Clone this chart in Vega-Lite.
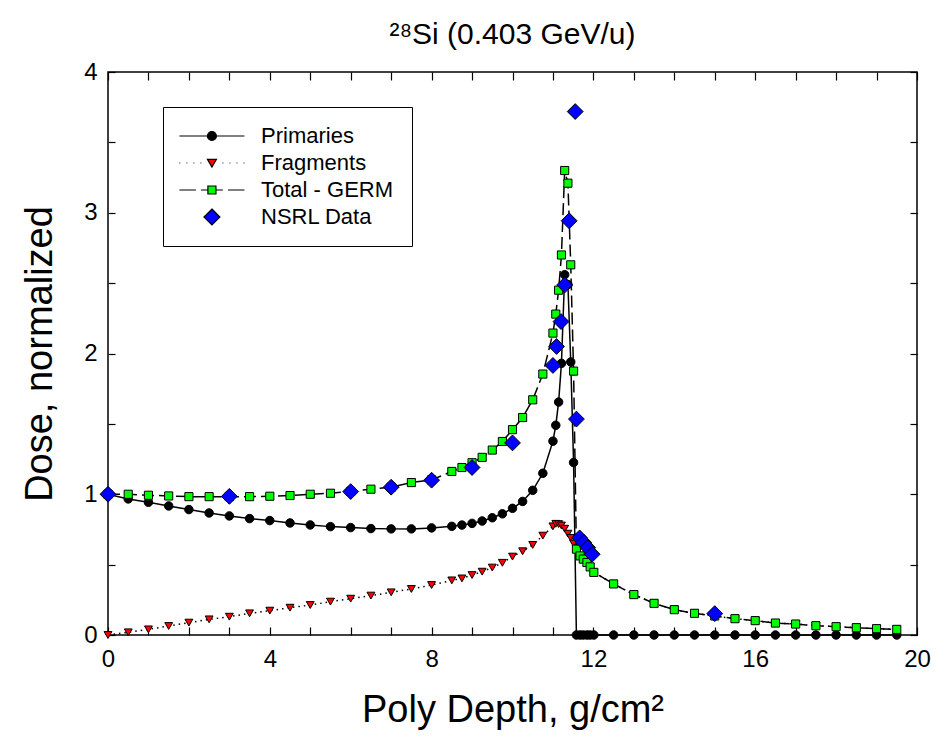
{
  "$schema": "https://vega.github.io/schema/vega-lite/v6.json",
  "width": 809,
  "height": 563,
  "autosize": {"type": "none"},
  "padding": {"left": 108, "top": 72, "right": 31, "bottom": 114},
  "background": "white",
  "config": {
    "font": "Liberation Sans",
    "view": {"stroke": "black", "strokeWidth": 1.5},
    "axis": {"domain": false, "tickColor": "black", "tickWidth": 1.2, "grid": false, "labelColor": "black", "titleColor": "black", "labelFont": "Liberation Sans", "titleFont": "Liberation Sans", "titleFontWeight": "normal"}
  },
  "title": {"text": "²⁸Si (0.403 GeV/u)", "fontSize": 30, "fontWeight": "normal", "font": "Liberation Sans", "offset": 10, "anchor": "middle", "color": "black"},
  "data": {"values": [
    {"series": "Primaries", "depth": 0, "dose": 1.0},
    {"series": "Primaries", "depth": 0.5, "dose": 0.967},
    {"series": "Primaries", "depth": 1, "dose": 0.943},
    {"series": "Primaries", "depth": 1.5, "dose": 0.917},
    {"series": "Primaries", "depth": 2, "dose": 0.891},
    {"series": "Primaries", "depth": 2.5, "dose": 0.867},
    {"series": "Primaries", "depth": 3, "dose": 0.846},
    {"series": "Primaries", "depth": 3.5, "dose": 0.827},
    {"series": "Primaries", "depth": 4, "dose": 0.813},
    {"series": "Primaries", "depth": 4.5, "dose": 0.796},
    {"series": "Primaries", "depth": 5, "dose": 0.782},
    {"series": "Primaries", "depth": 5.5, "dose": 0.77},
    {"series": "Primaries", "depth": 6, "dose": 0.763},
    {"series": "Primaries", "depth": 6.5, "dose": 0.756},
    {"series": "Primaries", "depth": 7, "dose": 0.754},
    {"series": "Primaries", "depth": 7.5, "dose": 0.754},
    {"series": "Primaries", "depth": 8, "dose": 0.761},
    {"series": "Primaries", "depth": 8.5, "dose": 0.772},
    {"series": "Primaries", "depth": 8.75, "dose": 0.781},
    {"series": "Primaries", "depth": 9, "dose": 0.793},
    {"series": "Primaries", "depth": 9.25, "dose": 0.81},
    {"series": "Primaries", "depth": 9.5, "dose": 0.833},
    {"series": "Primaries", "depth": 9.75, "dose": 0.861},
    {"series": "Primaries", "depth": 10, "dose": 0.9},
    {"series": "Primaries", "depth": 10.25, "dose": 0.949},
    {"series": "Primaries", "depth": 10.5, "dose": 1.028},
    {"series": "Primaries", "depth": 10.75, "dose": 1.149},
    {"series": "Primaries", "depth": 11, "dose": 1.377},
    {"series": "Primaries", "depth": 11.07, "dose": 1.49},
    {"series": "Primaries", "depth": 11.14, "dose": 1.655},
    {"series": "Primaries", "depth": 11.21, "dose": 1.93},
    {"series": "Primaries", "depth": 11.29, "dose": 2.56},
    {"series": "Primaries", "depth": 11.37, "dose": 2.49},
    {"series": "Primaries", "depth": 11.44, "dose": 1.94},
    {"series": "Primaries", "depth": 11.51, "dose": 1.225},
    {"series": "Primaries", "depth": 11.58, "dose": 0},
    {"series": "Primaries", "depth": 11.67, "dose": 0},
    {"series": "Primaries", "depth": 11.75, "dose": 0},
    {"series": "Primaries", "depth": 11.84, "dose": 0},
    {"series": "Primaries", "depth": 11.92, "dose": 0},
    {"series": "Primaries", "depth": 12.01, "dose": 0},
    {"series": "Primaries", "depth": 12.5, "dose": 0},
    {"series": "Primaries", "depth": 13, "dose": 0},
    {"series": "Primaries", "depth": 13.5, "dose": 0},
    {"series": "Primaries", "depth": 14, "dose": 0},
    {"series": "Primaries", "depth": 14.5, "dose": 0},
    {"series": "Primaries", "depth": 15, "dose": 0},
    {"series": "Primaries", "depth": 15.5, "dose": 0},
    {"series": "Primaries", "depth": 16, "dose": 0},
    {"series": "Primaries", "depth": 16.5, "dose": 0},
    {"series": "Primaries", "depth": 17, "dose": 0},
    {"series": "Primaries", "depth": 17.5, "dose": 0},
    {"series": "Primaries", "depth": 18, "dose": 0},
    {"series": "Primaries", "depth": 18.5, "dose": 0},
    {"series": "Primaries", "depth": 19, "dose": 0},
    {"series": "Primaries", "depth": 19.5, "dose": 0},

    {"series": "Fragments", "depth": 0, "dose": 0},
    {"series": "Fragments", "depth": 0.5, "dose": 0.019},
    {"series": "Fragments", "depth": 1, "dose": 0.04},
    {"series": "Fragments", "depth": 1.5, "dose": 0.064},
    {"series": "Fragments", "depth": 2, "dose": 0.088},
    {"series": "Fragments", "depth": 2.5, "dose": 0.111},
    {"series": "Fragments", "depth": 3, "dose": 0.13},
    {"series": "Fragments", "depth": 3.5, "dose": 0.154},
    {"series": "Fragments", "depth": 4, "dose": 0.173},
    {"series": "Fragments", "depth": 4.5, "dose": 0.194},
    {"series": "Fragments", "depth": 5, "dose": 0.213},
    {"series": "Fragments", "depth": 5.5, "dose": 0.237},
    {"series": "Fragments", "depth": 6, "dose": 0.258},
    {"series": "Fragments", "depth": 6.5, "dose": 0.28},
    {"series": "Fragments", "depth": 7, "dose": 0.303},
    {"series": "Fragments", "depth": 7.5, "dose": 0.327},
    {"series": "Fragments", "depth": 8, "dose": 0.355},
    {"series": "Fragments", "depth": 8.5, "dose": 0.388},
    {"series": "Fragments", "depth": 8.75, "dose": 0.402},
    {"series": "Fragments", "depth": 9, "dose": 0.426},
    {"series": "Fragments", "depth": 9.25, "dose": 0.45},
    {"series": "Fragments", "depth": 9.5, "dose": 0.479},
    {"series": "Fragments", "depth": 9.75, "dose": 0.513},
    {"series": "Fragments", "depth": 10, "dose": 0.557},
    {"series": "Fragments", "depth": 10.25, "dose": 0.595},
    {"series": "Fragments", "depth": 10.5, "dose": 0.64},
    {"series": "Fragments", "depth": 10.75, "dose": 0.706},
    {"series": "Fragments", "depth": 11, "dose": 0.772},
    {"series": "Fragments", "depth": 11.07, "dose": 0.79},
    {"series": "Fragments", "depth": 11.14, "dose": 0.788},
    {"series": "Fragments", "depth": 11.21, "dose": 0.778},
    {"series": "Fragments", "depth": 11.29, "dose": 0.755},
    {"series": "Fragments", "depth": 11.37, "dose": 0.72},
    {"series": "Fragments", "depth": 11.44, "dose": 0.69},
    {"series": "Fragments", "depth": 11.51, "dose": 0.65},
    {"series": "Fragments", "depth": 11.58, "dose": 0.61},
    {"series": "Fragments", "depth": 11.67, "dose": 0.562},
    {"series": "Fragments", "depth": 11.75, "dose": 0.539},
    {"series": "Fragments", "depth": 11.84, "dose": 0.515},
    {"series": "Fragments", "depth": 11.92, "dose": 0.484},
    {"series": "Fragments", "depth": 12.01, "dose": 0.445},
    {"series": "Fragments", "depth": 12.5, "dose": 0.363},
    {"series": "Fragments", "depth": 13, "dose": 0.287},
    {"series": "Fragments", "depth": 13.5, "dose": 0.225},
    {"series": "Fragments", "depth": 14, "dose": 0.18},
    {"series": "Fragments", "depth": 14.5, "dose": 0.154},
    {"series": "Fragments", "depth": 15, "dose": 0.135},
    {"series": "Fragments", "depth": 15.5, "dose": 0.116},
    {"series": "Fragments", "depth": 16, "dose": 0.102},
    {"series": "Fragments", "depth": 16.5, "dose": 0.085},
    {"series": "Fragments", "depth": 17, "dose": 0.078},
    {"series": "Fragments", "depth": 17.5, "dose": 0.066},
    {"series": "Fragments", "depth": 18, "dose": 0.059},
    {"series": "Fragments", "depth": 18.5, "dose": 0.052},
    {"series": "Fragments", "depth": 19, "dose": 0.045},
    {"series": "Fragments", "depth": 19.5, "dose": 0.04},

    {"series": "Total - GERM", "depth": 0, "dose": 1.0},
    {"series": "Total - GERM", "depth": 0.5, "dose": 1.0},
    {"series": "Total - GERM", "depth": 1, "dose": 0.993},
    {"series": "Total - GERM", "depth": 1.5, "dose": 0.988},
    {"series": "Total - GERM", "depth": 2, "dose": 0.983},
    {"series": "Total - GERM", "depth": 2.5, "dose": 0.983},
    {"series": "Total - GERM", "depth": 3, "dose": 0.983},
    {"series": "Total - GERM", "depth": 3.5, "dose": 0.983},
    {"series": "Total - GERM", "depth": 4, "dose": 0.986},
    {"series": "Total - GERM", "depth": 4.5, "dose": 0.991},
    {"series": "Total - GERM", "depth": 5, "dose": 1.0},
    {"series": "Total - GERM", "depth": 5.5, "dose": 1.007},
    {"series": "Total - GERM", "depth": 6, "dose": 1.02},
    {"series": "Total - GERM", "depth": 6.5, "dose": 1.036},
    {"series": "Total - GERM", "depth": 7, "dose": 1.05},
    {"series": "Total - GERM", "depth": 7.5, "dose": 1.083},
    {"series": "Total - GERM", "depth": 8, "dose": 1.102},
    {"series": "Total - GERM", "depth": 8.5, "dose": 1.162},
    {"series": "Total - GERM", "depth": 8.75, "dose": 1.19},
    {"series": "Total - GERM", "depth": 9, "dose": 1.224},
    {"series": "Total - GERM", "depth": 9.25, "dose": 1.262},
    {"series": "Total - GERM", "depth": 9.5, "dose": 1.314},
    {"series": "Total - GERM", "depth": 9.75, "dose": 1.375},
    {"series": "Total - GERM", "depth": 10, "dose": 1.459},
    {"series": "Total - GERM", "depth": 10.25, "dose": 1.545},
    {"series": "Total - GERM", "depth": 10.5, "dose": 1.671},
    {"series": "Total - GERM", "depth": 10.75, "dose": 1.854},
    {"series": "Total - GERM", "depth": 11, "dose": 2.145},
    {"series": "Total - GERM", "depth": 11.07, "dose": 2.28},
    {"series": "Total - GERM", "depth": 11.14, "dose": 2.45},
    {"series": "Total - GERM", "depth": 11.21, "dose": 2.7},
    {"series": "Total - GERM", "depth": 11.29, "dose": 3.3},
    {"series": "Total - GERM", "depth": 11.37, "dose": 3.21},
    {"series": "Total - GERM", "depth": 11.44, "dose": 2.63},
    {"series": "Total - GERM", "depth": 11.51, "dose": 1.875},
    {"series": "Total - GERM", "depth": 11.58, "dose": 0.61},
    {"series": "Total - GERM", "depth": 11.67, "dose": 0.562},
    {"series": "Total - GERM", "depth": 11.75, "dose": 0.539},
    {"series": "Total - GERM", "depth": 11.84, "dose": 0.515},
    {"series": "Total - GERM", "depth": 11.92, "dose": 0.484},
    {"series": "Total - GERM", "depth": 12.01, "dose": 0.445},
    {"series": "Total - GERM", "depth": 12.5, "dose": 0.363},
    {"series": "Total - GERM", "depth": 13, "dose": 0.287},
    {"series": "Total - GERM", "depth": 13.5, "dose": 0.225},
    {"series": "Total - GERM", "depth": 14, "dose": 0.18},
    {"series": "Total - GERM", "depth": 14.5, "dose": 0.154},
    {"series": "Total - GERM", "depth": 15, "dose": 0.135},
    {"series": "Total - GERM", "depth": 15.5, "dose": 0.116},
    {"series": "Total - GERM", "depth": 16, "dose": 0.102},
    {"series": "Total - GERM", "depth": 16.5, "dose": 0.085},
    {"series": "Total - GERM", "depth": 17, "dose": 0.078},
    {"series": "Total - GERM", "depth": 17.5, "dose": 0.066},
    {"series": "Total - GERM", "depth": 18, "dose": 0.059},
    {"series": "Total - GERM", "depth": 18.5, "dose": 0.052},
    {"series": "Total - GERM", "depth": 19, "dose": 0.045},
    {"series": "Total - GERM", "depth": 19.5, "dose": 0.04},

    {"series": "NSRL Data", "depth": 0, "dose": 1.0},
    {"series": "NSRL Data", "depth": 3, "dose": 0.985},
    {"series": "NSRL Data", "depth": 6, "dose": 1.019},
    {"series": "NSRL Data", "depth": 7, "dose": 1.05},
    {"series": "NSRL Data", "depth": 8, "dose": 1.1},
    {"series": "NSRL Data", "depth": 9, "dose": 1.19},
    {"series": "NSRL Data", "depth": 10, "dose": 1.365},
    {"series": "NSRL Data", "depth": 11, "dose": 1.915},
    {"series": "NSRL Data", "depth": 11.09, "dose": 2.05},
    {"series": "NSRL Data", "depth": 11.2, "dose": 2.227},
    {"series": "NSRL Data", "depth": 11.29, "dose": 2.487},
    {"series": "NSRL Data", "depth": 11.4, "dose": 2.943},
    {"series": "NSRL Data", "depth": 11.55, "dose": 3.719},
    {"series": "NSRL Data", "depth": 11.58, "dose": 1.534},
    {"series": "NSRL Data", "depth": 11.66, "dose": 0.69},
    {"series": "NSRL Data", "depth": 11.76, "dose": 0.657},
    {"series": "NSRL Data", "depth": 11.86, "dose": 0.621},
    {"series": "NSRL Data", "depth": 11.97, "dose": 0.574},
    {"series": "NSRL Data", "depth": 15, "dose": 0.152}
  ]},
  "layer": [
    {
      "transform": [{"filter": "datum.series == 'Primaries'"}],
      "mark": {"type": "line", "color": "black", "strokeWidth": 1.5},
      "encoding": {
        "x": {"field": "depth", "type": "quantitative", "scale": {"domain": [0, 20], "nice": false},
          "axis": {"orient": "bottom", "offset": -8, "tickSize": 8, "title": "Poly Depth, g/cm²", "titleFontSize": 38, "titlePadding": 20,
            "values": [0,1,2,3,4,5,6,7,8,9,10,11,12,13,14,15,16,17,18,19,20],
            "labelExpr": "datum.value % 4 == 0 ? datum.label : ''", "labelFontSize": 24, "labelPadding": 12, "labelFlush": false, "labelOverlap": false}},
        "y": {"field": "dose", "type": "quantitative", "scale": {"domain": [0, 4], "nice": false},
          "axis": {"orient": "left", "offset": -7, "tickSize": 7, "title": "Dose, normalized", "titleFontSize": 38, "titlePadding": 24,
            "values": [0,0.5,1,1.5,2,2.5,3,3.5,4],
            "labelExpr": "datum.value % 1 == 0 ? format(datum.value, 'd') : ''", "labelFontSize": 24, "labelPadding": 11, "labelFlush": false, "labelOverlap": false}}
      }
    },
    {
      "transform": [{"filter": "datum.series == 'Fragments'"}],
      "mark": {"type": "line", "color": "black", "strokeWidth": 1.5, "strokeDash": [1.5, 4]},
      "encoding": {
        "x": {"field": "depth", "type": "quantitative", "axis": null},
        "y": {"field": "dose", "type": "quantitative", "axis": null}
      }
    },
    {
      "transform": [{"filter": "datum.series == 'Total - GERM'"}],
      "mark": {"type": "line", "color": "black", "strokeWidth": 1.5, "strokeDash": [12, 5]},
      "encoding": {
        "x": {"field": "depth", "type": "quantitative",
          "axis": {"orient": "top", "offset": -8, "tickSize": 8, "title": null, "labels": false, "values": [0,1,2,3,4,5,6,7,8,9,10,11,12,13,14,15,16,17,18,19,20]}},
        "y": {"field": "dose", "type": "quantitative",
          "axis": {"orient": "right", "offset": -7, "tickSize": 7, "title": null, "labels": false, "values": [0,0.5,1,1.5,2,2.5,3,3.5,4]}}
      }
    },
    {
      "transform": [{"filter": "datum.series == 'Primaries'"}],
      "mark": {"type": "point", "shape": "circle", "filled": true, "fill": "black", "stroke": "black", "strokeWidth": 1, "size": 72, "opacity": 1},
      "encoding": {
        "x": {"field": "depth", "type": "quantitative", "axis": null},
        "y": {"field": "dose", "type": "quantitative", "axis": null}
      }
    },
    {
      "transform": [{"filter": "datum.series == 'Fragments'"}],
      "mark": {"type": "point", "shape": "triangle-down", "filled": true, "fill": "#ff0000", "stroke": "black", "strokeWidth": 1, "size": 62, "opacity": 1},
      "encoding": {
        "x": {"field": "depth", "type": "quantitative", "axis": null},
        "y": {"field": "dose", "type": "quantitative", "axis": null}
      }
    },
    {
      "transform": [{"filter": "datum.series == 'Total - GERM'"}],
      "mark": {"type": "point", "shape": "square", "filled": true, "fill": "#00ff00", "stroke": "black", "strokeWidth": 1, "size": 66, "opacity": 1},
      "encoding": {
        "x": {"field": "depth", "type": "quantitative", "axis": null},
        "y": {"field": "dose", "type": "quantitative", "axis": null}
      }
    },
    {
      "transform": [{"filter": "datum.series == 'NSRL Data'"}],
      "mark": {"type": "point", "shape": "diamond", "filled": true, "fill": "#0000ff", "stroke": "black", "strokeWidth": 1, "size": 250, "opacity": 1},
      "encoding": {
        "x": {"field": "depth", "type": "quantitative", "axis": null},
        "y": {"field": "dose", "type": "quantitative", "axis": null}
      }
    },
    {
      "transform": [{"filter": "datum.depth == 0"}],
      "mark": {"type": "point", "filled": true, "opacity": 0, "stroke": "black", "strokeWidth": 1.2, "size": 144},
      "encoding": {
        "x": {"field": "depth", "type": "quantitative", "axis": null},
        "y": {"field": "dose", "type": "quantitative", "axis": null},
        "shape": {"field": "series", "type": "nominal",
          "scale": {"domain": ["Primaries", "Fragments", "Total - GERM", "NSRL Data"],
            "range": [
              "M-2.1,0H8.74M4.07,0A0.75,0.75,0,1,1,2.57,0A0.75,0.75,0,1,1,4.07,0Z",
              "M-2.1,0h0.15M-0.93,0h0.15M0.24,0h0.15M1.41,0h0.15M5.08,0h0.15M6.25,0h0.15M7.42,0h0.15M8.59,0h0.15M2.57,-0.6L4.07,-0.6L3.32,0.67Z",
              "M-2.1,0H0.65M1.49,0H2.57M4.07,0H5.15M5.99,0H8.74M2.65,-0.67H3.99V0.67H2.65Z",
              "M3.32,-1.33L4.65,0L3.32,1.33L1.99,0Z"
            ]},
          "legend": {"orient": "none", "legendX": 55, "legendY": 35, "title": null, "strokeColor": "black", "fillColor": "white",
            "padding": 18, "labelFontSize": 22, "labelFont": "Liberation Sans", "labelColor": "black", "labelOffset": 58,
            "symbolSize": 144, "symbolStrokeColor": "black", "symbolStrokeWidth": 1.2, "symbolOpacity": 1, "rowPadding": 5,
            "encode": {"symbols": {"update": {"stroke": {"value": "black"}, "strokeWidth": {"value": 1.2}, "opacity": {"value": 1}, "strokeOpacity": {"value": 1}}}}}},
        "fill": {"field": "series", "type": "nominal",
          "scale": {"domain": ["Primaries", "Fragments", "Total - GERM", "NSRL Data"], "range": ["black", "#ff0000", "#00ff00", "#0000ff"]},
          "legend": {"orient": "none", "legendX": 55, "legendY": 35, "title": null, "strokeColor": "black", "fillColor": "white",
            "padding": 18, "labelFontSize": 22, "labelFont": "Liberation Sans", "labelColor": "black", "labelOffset": 58,
            "symbolSize": 144, "symbolStrokeColor": "black", "symbolStrokeWidth": 1.2, "symbolOpacity": 1, "rowPadding": 5,
            "encode": {"symbols": {"update": {"stroke": {"value": "black"}, "strokeWidth": {"value": 1.2}, "opacity": {"value": 1}, "strokeOpacity": {"value": 1}}}}}}
      }
    }
  ],
  "resolve": {"axis": {"x": "independent", "y": "independent"}}
}
